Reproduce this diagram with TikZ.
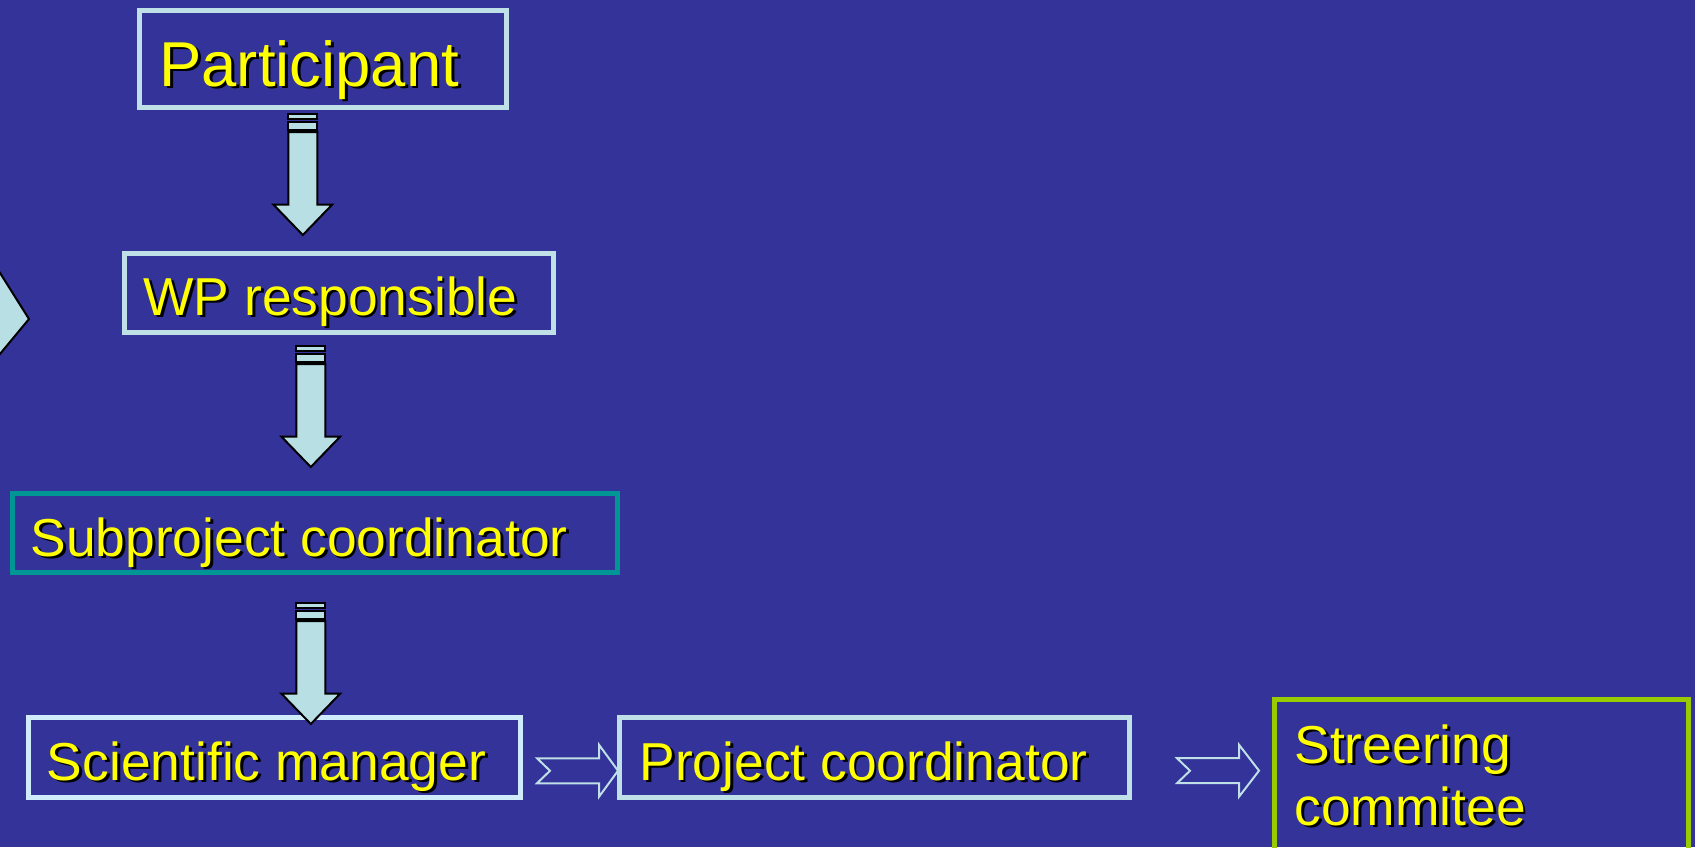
\documentclass[tikz,border=0pt]{standalone}
\usepackage{fontspec}
\setmainfont{Liberation Sans}
\usetikzlibrary{calc}
\definecolor{bg}{RGB}{51,51,153}
\definecolor{lightbd}{RGB}{190,224,230}
\definecolor{whitebd}{RGB}{208,236,250}
\definecolor{tealbd}{RGB}{0,150,150}
\definecolor{greenbd}{RGB}{153,204,0}
\definecolor{arrfillc}{RGB}{184,224,228}
\definecolor{txtyellow}{RGB}{255,255,0}
\newcommand\shadtxt[1]{\rlap{\hspace{1.4pt}\raisebox{-1.4pt}{\color{black}#1}}#1}
\tikzset{
  box/.style={draw=lightbd, line width=2.5pt, rectangle, inner sep=0pt, outer sep=0pt, anchor=north west},
  lbl/.style={anchor=base west, inner sep=0pt, text=txtyellow, font=\fontsize{26.7}{31}\selectfont},
  biglbl/.style={lbl, font=\fontsize{31.7}{36}\selectfont},
  blockarr/.style={draw=black, fill=arrfillc, line width=1pt, line join=miter},
  hollowarr/.style={draw=lightbd, line width=1pt, line join=miter}
}
\begin{document}
\begin{tikzpicture}[x=0.5pt,y=-0.5pt]
\useasboundingbox (0,0) rectangle (1695,847);
\clip (0,0) rectangle (1695,847);
\fill[bg] (0,0) rectangle (1695,847);

% boxes
\node[box, minimum width=183.5pt, minimum height=48.5pt] (part) at (139.5,10.5) {};
\node[box, minimum width=214.5pt, minimum height=39.5pt] (wp) at (124.5,253.5) {};
\node[box, draw=tealbd, minimum width=302.5pt, minimum height=39.75pt] (sub) at (12,493) {};
\node[box, draw=whitebd, minimum width=246pt, minimum height=40.25pt] (sci) at (28.5,717) {};
\node[box, minimum width=255pt, minimum height=40.25pt] (proj) at (619.5,717) {};
\node[box, draw=greenbd, minimum width=206.75pt, minimum height=80pt] (steer) at (1274.5,699.5) {};

% texts
\node[biglbl] (tpart) at (159,86) {\shadtxt{Participant}};
\node[lbl] (twp) at (143,315) {\shadtxt{WP responsible}};
\node[lbl] (tsub) at (30,556) {\shadtxt{Subproject coordinator}};
\node[lbl] (tsci) at (46.5,780) {\shadtxt{Scientific manager}};
\node[lbl] (tproj) at (639,780) {\shadtxt{Project coordinator}};
\node[lbl] (tsteer1) at (1294,763) {\shadtxt{Streering}};
\node[lbl] (tsteer2) at (1294,825) {\shadtxt{commitee}};

% partial arrow on the left edge
\draw[blockarr] (-10,257) -- (29,319) -- (-10,366) -- cycle;

% block arrows (tops)
\coordinate (a1) at ($(part.south)+(-20.2,6)$);
\coordinate (a2) at ($(wp.south)+(-28.2,13)$);
\coordinate (a3) at ($(sub.south)+(-3.7,30)$);
\foreach \c in {a1,a2,a3}{
  \begin{scope}[shift={(\c)}]
    \draw[blockarr] (-14.5,0) rectangle (14.5,5);
    \draw[blockarr] (-14.5,8) rectangle (14.5,16);
    \draw[blockarr] (-14.5,18.5) -- (14.5,18.5) -- (14.5,91) -- (29.5,91) -- (0,121.5) -- (-29.5,91) -- (-14.5,91) -- cycle;
  \end{scope}
}

% hollow arrows (tips)
\coordinate (h1) at ($(proj.west)+(-1.5,13.5)$);
\coordinate (h2) at ($(steer.west)+(-15.5,-8.8)$);
\foreach \c/\l/\n/\s in {h1/-81/-68/-19, h2/-82/-69/-20}{
  \begin{scope}[shift={(\c)}]
    \draw[hollowarr] (\l,-12.5) -- (\s,-12.5) -- (\s,-26) -- (0,0) -- (\s,26) -- (\s,12.5) -- (\l,12.5) -- (\n,0) -- cycle;
  \end{scope}
}
\end{tikzpicture}
\end{document}
